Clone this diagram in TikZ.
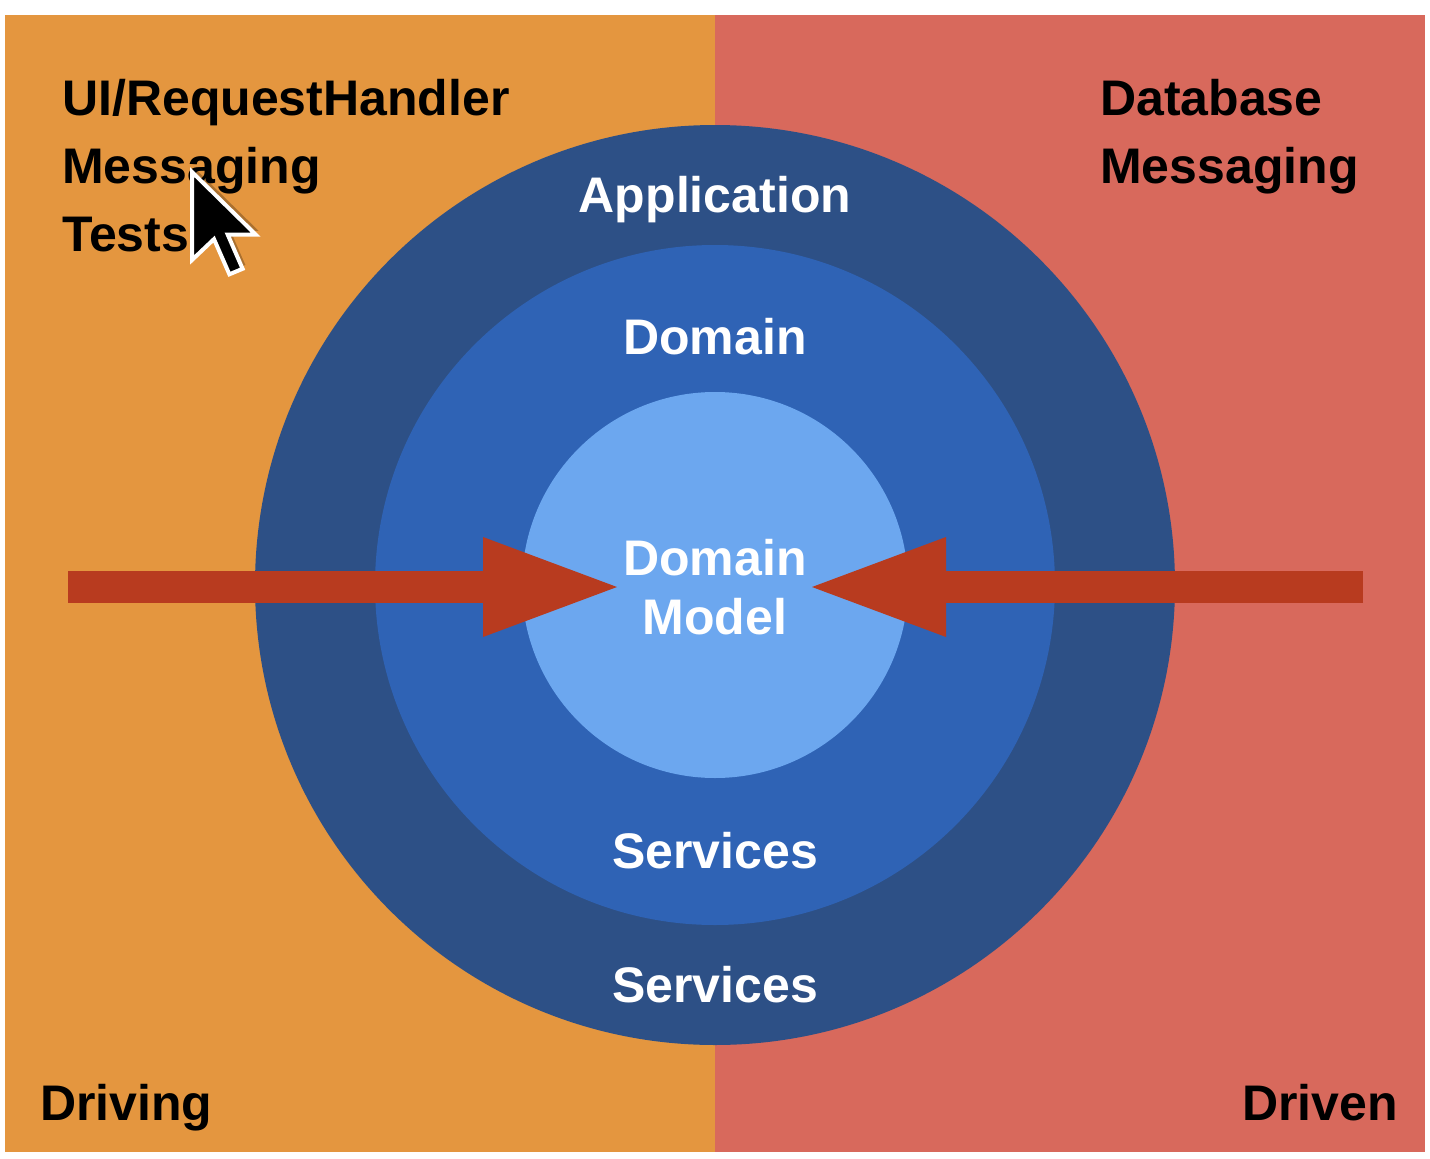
\documentclass[tikz,border=0pt]{standalone}
\usepackage{fontspec}
\setmainfont{Liberation Sans}
\usepackage{tikz}
\usetikzlibrary{arrows.meta,positioning}
\definecolor{drivingside}{HTML}{E4963F}
\definecolor{drivenside}{HTML}{D8695C}
\definecolor{appblue}{HTML}{2D5086}
\definecolor{domainblue}{HTML}{2F63B5}
\definecolor{modelblue}{HTML}{6CA7EF}
\definecolor{pushred}{HTML}{B83B1F}
\tikzset{push/.style = {
    draw=pushred,
    line width=32pt,
    -{Triangle[length=134pt, width=100pt, line width=0pt]},
  }
}

\begin{document}
\begin{tikzpicture}[x=1pt, y=-1pt]
          % styles
          \tikzstyle{ring} = [circle, inner sep=0pt]
          \tikzstyle{title} = [font=\fontsize{50}{60}\selectfont\bfseries, inner sep=0pt]
          \tikzstyle{sidetitle} = [title, text=black]
          \tikzstyle{ringtitle} = [title, text=white, anchor=base]

          \useasboundingbox[fill=white] (0,0) rectangle (1430,1159);

          % the two sides
          \fill[drivingside] (5,15) rectangle (715,1152);
          \fill[drivenside] (715,15) rectangle (1425,1152);

          % vertices
          \node[ring, fill=appblue, minimum size=920pt] (app) at (715,585) {};
          \node[ring, fill=domainblue, minimum size=680pt] (domain) at (app.center) {};
          \node[ring, fill=modelblue, minimum size=386pt] (model) at (app.center) {};

          \node[ringtitle] (apptitle) at (715,212) {Application};
          \node[ringtitle] (domaintitle) at (715,354) {Domain};
          \node[ringtitle] (modeltitle) at (715,575) {Domain};
          \node[ringtitle, below=59pt of modeltitle.base, anchor=base] (modeltitle2) {Model};
          \node[ringtitle] (domainserv) at (715,868) {Services};
          \node[ringtitle] (appserv) at (715,1002) {Services};

          \node[sidetitle, anchor=base west] (ui) at (62,115) {UI/RequestHandler};
          \node[sidetitle, below=68pt of ui.base west, anchor=base west] (lmsg) {Messaging};
          \node[sidetitle, below=68pt of lmsg.base west, anchor=base west] (tests) {Tests};

          \node[sidetitle, anchor=base west] (db) at (1100,115) {Database};
          \node[sidetitle, below=68pt of db.base west, anchor=base west] (rmsg) {Messaging};

          \node[sidetitle, anchor=base west] (driving) at (40,1120) {Driving};
          \node[sidetitle, anchor=base east] (driven) at (1398,1120) {Driven};

          % arrows
          \coordinate (lstart) at (68,587);
          \coordinate (ltip) at (617,587);
          \coordinate (rstart) at (1363,587);
          \coordinate (rtip) at (812,587);
          \draw[push] (lstart) -- (ltip);
          \draw[push] (rstart) -- (rtip);

          % mouse pointer
          \begin{scope}[shift={(192,172)}, x=5.5pt, y=-5.5pt]
            \fill[black, opacity=0.25, shift={(0.5,-0.7)}] (0,0) -- (0,16) -- (4,12.2) -- (6.8,18.6) -- (9.2,17.6) -- (6.5,11.4) -- (11.6,11.4) -- cycle;
            \filldraw[fill=black, draw=white, line width=4pt, line join=miter] (0,0) -- (0,16) -- (4,12.2) -- (6.8,18.6) -- (9.2,17.6) -- (6.5,11.4) -- (11.6,11.4) -- cycle;
          \end{scope}
        \end{tikzpicture}
\end{document}
